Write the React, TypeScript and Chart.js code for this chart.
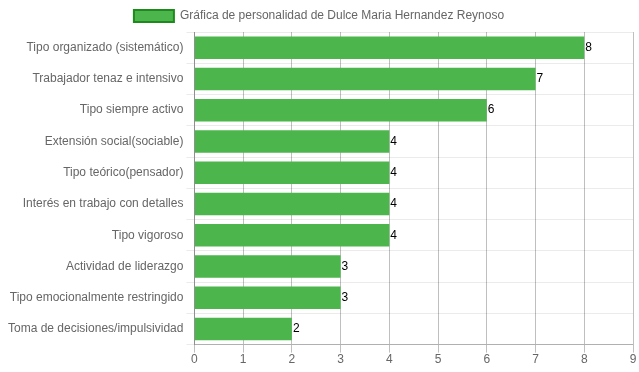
import React, { useEffect, useRef } from "react";
import { Chart, registerables } from "chart.js";

Chart.register(...registerables);

const categories = [
  "Tipo organizado (sistemático)",
  "Trabajador tenaz e intensivo",
  "Tipo siempre activo",
  "Extensión social(sociable)",
  "Tipo teórico(pensador)",
  "Interés en trabajo con detalles",
  "Tipo vigoroso",
  "Actividad de liderazgo",
  "Tipo emocionalmente restringido",
  "Toma de decisiones/impulsividad",
];
const values = [8, 7, 6, 4, 4, 4, 4, 3, 3, 2];
const seriesLabel = "Gráfica de personalidad de Dulce Maria Hernandez Reynoso";

const FONT = "'Liberation Sans', Arial, sans-serif";

const valueLabels = {
  id: "valueLabels",
  afterDatasetsDraw(chart: any) {
    const ctx = chart.ctx;
    const meta = chart.getDatasetMeta(0);
    ctx.save();
    ctx.fillStyle = "#000";
    ctx.font = "12px " + FONT;
    ctx.textAlign = "left";
    ctx.textBaseline = "middle";
    meta.data.forEach((bar: any, i: number) => {
      ctx.fillText(String(values[i]), bar.x + 1, bar.y);
    });
    ctx.restore();
  },
};

export default function App() {
  const ref = useRef<HTMLCanvasElement>(null);
  useEffect(() => {
    document.body.style.margin = "0";
    const chart = new Chart(ref.current!, {
      type: "bar",
      data: {
        labels: categories,
        datasets: [
          {
            label: seriesLabel,
            data: values,
            backgroundColor: "#4cb54c",
            borderWidth: 0,
          },
        ],
      },
      options: {
        indexAxis: "y",
        animation: false,
        responsive: false,
        devicePixelRatio: 1,
        layout: { padding: { left: 5, right: 6, top: 0, bottom: 5 } },
        font: { family: FONT, size: 12 },
        color: "#666",
        plugins: {
          tooltip: { enabled: false },
          legend: {
            labels: {
              color: "#666",
              boxWidth: 40,
              boxHeight: 12,
              font: { family: FONT, size: 12 },
              generateLabels: () => [
                {
                  text: seriesLabel,
                  fillStyle: "#4cb54c",
                  strokeStyle: "#1d8a1d",
                  lineWidth: 2,
                  datasetIndex: 0,
                  fontColor: "#666",
                } as any,
              ],
            },
          },
        },
        scales: {
          x: {
            min: 0,
            max: 9,
            ticks: {
              stepSize: 1,
              color: "#666",
              padding: 0,
              font: { family: FONT, size: 12 },
            },
            grid: { color: "rgba(0,0,0,0.25)", drawTicks: true, tickLength: 8 },
            border: { color: "rgba(0,0,0,0.25)" },
          },
          y: {
            ticks: {
              color: "#666",
              font: { family: FONT, size: 12 },
            },
            grid: { color: "rgba(0,0,0,0.08)", offset: true },
            border: { color: "rgba(0,0,0,0.25)" },
          },
        },
      },
      plugins: [valueLabels],
    });
    return () => chart.destroy();
  }, []);
  return (
    <div style={{ position: "absolute", left: 0, top: 0, width: 639, height: 372 }}>
      <canvas ref={ref} width={639} height={372} />
    </div>
  );
}
